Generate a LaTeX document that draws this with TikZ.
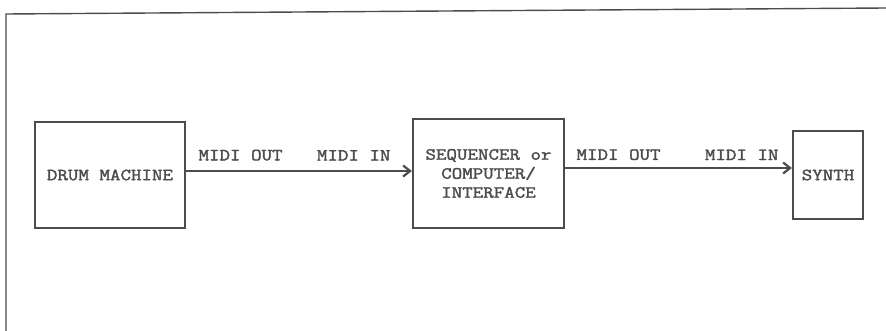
\documentclass[tikz,border=0pt]{standalone}
\usepackage{fontspec}
\setmonofont{Latin Modern Mono}[FakeStretch=1.2, FakeBold=2]
\usetikzlibrary{arrows.meta}
\definecolor{ink}{HTML}{4C4C4C}

\begin{document}
\begin{tikzpicture}[x=1pt, y=-1pt, color=ink, line width=2.2pt,
    font=\ttfamily\fontsize{17}{19}\selectfont,
    >={Straight Barb[length=7pt, width=11pt]}]
    \useasboundingbox (0,0) rectangle (886,331);

    % 边框
    \draw[line width=1.4pt] (6,331) -- (6,14) -- (886,8);

    % 模块框
    \node[draw, minimum width=150pt, minimum height=106pt] (drum) at (110,175) {DRUM MACHINE};
    \node[draw, minimum width=151pt, minimum height=109pt, align=center] (seq) at (488.5,173.5)
        {SEQUENCER or\\COMPUTER/\\INTERFACE};
    \node[draw, minimum width=70pt, minimum height=88pt] (synth) at (828,175) {SYNTH};

    % 鼓机 -> 音序器
    \draw[->] ([yshift=4pt]drum.east) -- ([yshift=4pt]drum.east -| seq.west)
        node[pos=0, above right, xshift=8pt, yshift=6pt] {MIDI OUT}
        node[pos=1, above left, xshift=-17pt, yshift=6pt] {MIDI IN};

    % 音序器 -> 合成器
    \draw[->] ([yshift=5.5pt]seq.east) -- ([yshift=5.5pt]seq.east -| synth.west)
        node[pos=0, above right, xshift=7pt, yshift=3.5pt] {MIDI OUT}
        node[pos=1, above left, xshift=-9pt, yshift=3.5pt] {MIDI IN};
\end{tikzpicture}
\end{document}
